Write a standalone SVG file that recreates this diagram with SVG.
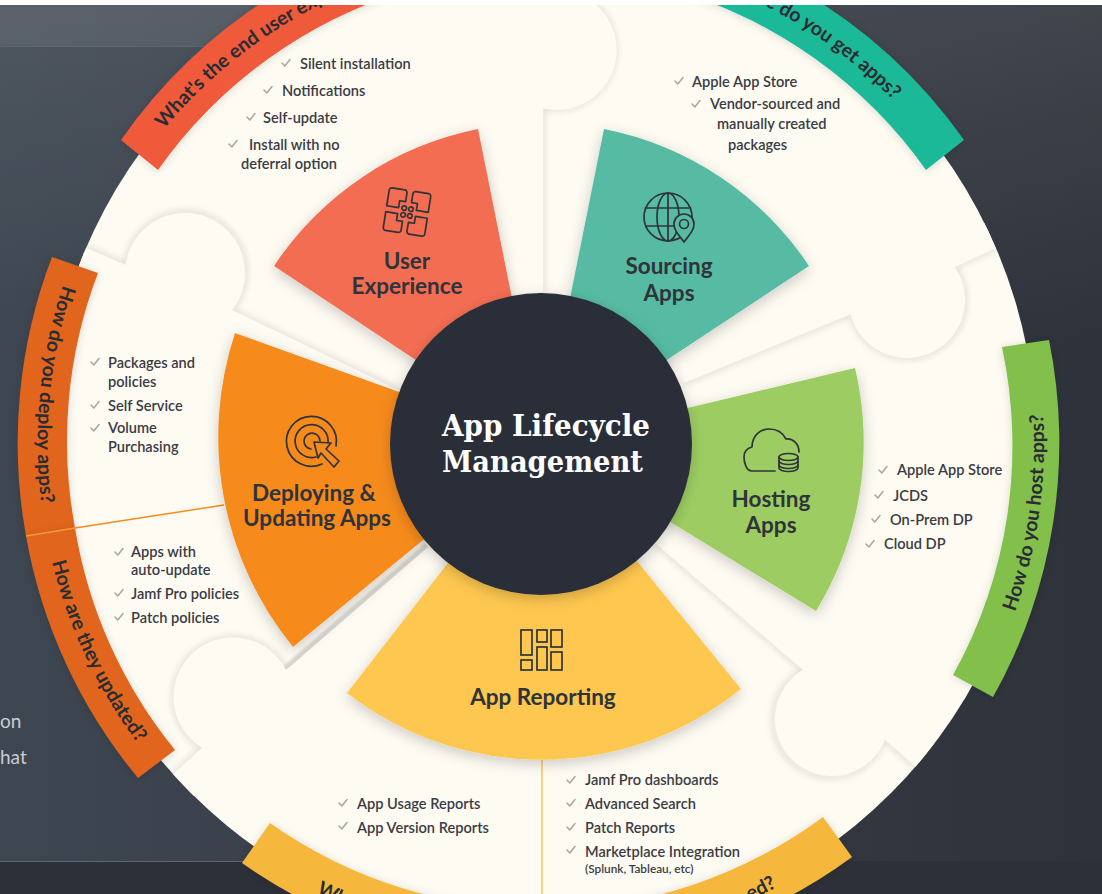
<svg xmlns="http://www.w3.org/2000/svg" xmlns:xlink="http://www.w3.org/1999/xlink" width="1102" height="894" viewBox="0 0 1102 894">
<style>
.item{font:600 14.6px "Lato","Open Sans",sans-serif;fill:#3a3c44;transform:translateY(.7px)}
.small{font:600 11.8px "Lato","Open Sans",sans-serif;fill:#3a3c44}
.title{font:700 22.5px "Lato","Open Sans",sans-serif;fill:#2f333a;text-anchor:middle;transform:translateY(.7px)}
.band{font:700 19.5px "Lato","Open Sans",sans-serif;fill:#2a2c33}
.center{font:700 30px "DejaVu Serif",serif;fill:#fff}
.side{font:400 19px "Lato",sans-serif;fill:#c9cdd2}
.icon{fill:none;stroke:#2f333a;stroke-width:1.7;stroke-linecap:round;stroke-linejoin:round}
.seam{fill:none;stroke:#cfcdc5;stroke-width:3;filter:url(#soft)}
.cover{fill:#fefbf3}
</style>
<defs>
<linearGradient id="bg" x1="0" x2="1" y1="0" y2="0"><stop offset="0" stop-color="#3e4651"/><stop offset=".5" stop-color="#363c46"/><stop offset="1" stop-color="#2e323a"/></linearGradient>
<linearGradient id="topglow" x1="0" x2="0" y1="0" y2="1"><stop offset="0" stop-color="#fff" stop-opacity=".09"/><stop offset="1" stop-color="#fff" stop-opacity="0"/></linearGradient>
<filter id="soft" x="-20%" y="-20%" width="140%" height="140%"><feGaussianBlur stdDeviation="3"/></filter>
<filter id="softer" x="-20%" y="-20%" width="140%" height="140%"><feGaussianBlur stdDeviation="1"/></filter>
<filter id="drop" x="-20%" y="-20%" width="140%" height="140%"><feDropShadow dx="0" dy="4" stdDeviation="7" flood-color="#000" flood-opacity=".2"/></filter>
<filter id="dropsm" x="-20%" y="-20%" width="140%" height="140%"><feDropShadow dx="0" dy="1" stdDeviation="4" flood-color="#000" flood-opacity=".14"/></filter>
<clipPath id="diskclip"><circle cx="541" cy="443" r="495"/></clipPath>
<path id="chk" d="M-4,0 L-1.2,3 L4,-3.5" fill="none" stroke="#a8a8a4" stroke-width="1.6" stroke-linecap="round" stroke-linejoin="round"/>
<path id="q" d="M-21,-3 V-19 a2.5,2.5 0 0 1 2.5,-2.5 H-5.5 a2.5,2.5 0 0 1 2.5,2.5 V-10 H-9 V-3 Z"/>
<path id="pRed" d="M164,129 A491,491 0 0 1 541,-48"/>
<path id="pTeal" d="M541,-48 A491,491 0 0 1 893,100"/>
<path id="pDeploy" d="M63,285 A503,503 0 0 0 47,540"/>
<path id="pUpdate" d="M52,562 A503,503 0 0 0 187,800"/>
<path id="pHost" d="M1015,612 A503,503 0 0 0 1040,380"/>
<path id="pW" d="M316,893 A503,503 0 0 0 541,946"/>
<path id="pEd" d="M541,946 A503,503 0 0 0 777,887"/>
</defs>

<g id="background">
<rect width="1102" height="894" fill="url(#bg)"/>
<rect width="1102" height="340" fill="url(#topglow)"/>
<rect y="5" width="300" height="41" fill="#fff" fill-opacity=".07"/>
<rect y="46" width="300" height="1" fill="#5c6570"/>
<rect x="0" y="861" width="1102" height="33" fill="#2d3038"/>
<rect x="0" y="861" width="300" height="1" fill="#5c6570"/>
<text class="side" x="0" y="728">on</text>
<text class="side" x="0" y="764">hat</text>
</g>

<circle id="disk" cx="541" cy="443" r="495" fill="#fefbf3"/>

<g id="connectors" clip-path="url(#diskclip)">
<path class="seam" d="M543,292 L543,108 A59.7,59.7 0 1 0 558,-10"/>
<path class="seam" d="M84,247 L126,265 A60,60 0 1 1 232,310 L398,390"/>
<path class="seam" d="M996,248 L955,267 A58,58 0 1 1 851,314 L684,383"/>
<path class="seam" d="M916,767 L884,739 A57,57 0 1 1 803,670 L655,543"/>
<path class="seam" d="M172,775 L202,748 A59.5,59.5 0 1 1 286,670"/>
<path class="seam" style="stroke:#d6d5cf;stroke-width:9;filter:url(#softer)" d="M286,670 L428,547"/>
<circle class="cover" cx="557" cy="50" r="59.7"/><rect class="cover" x="515" y="0" width="28" height="292"/>
<circle class="cover" cx="185" cy="273" r="60"/><polygon class="cover" points="84,247 126,265 232,310 398,390 388,420 220,338 70,275"/>
<circle class="cover" cx="907" cy="300" r="58"/><polygon class="cover" points="996,248 955,267 851,314 684,383 672,356 842,288 985,222"/>
<circle class="cover" cx="832" cy="719" r="57"/><polygon class="cover" points="916,767 884,739 803,670 655,543 675,520 822,648 938,745"/>
<circle class="cover" cx="233" cy="697" r="59.5"/><polygon class="cover" points="172,775 202,748 286,670 428,547 450,570 306,694 192,798"/>
<path d="M542,760 V894" fill="none" stroke="#f6c65e" stroke-width="1.5"/>
<path d="M75,528 L224,505" fill="none" stroke="#f68b1f" stroke-width="1.5"/>
</g>

<g id="node-user-experience">
<path d="M541,443 L478,129 A320,320 0 0 0 274,266 Z" fill="#f36d52" filter="url(#drop)"/>
<g class="icon" transform="translate(407,212) rotate(9)">
<use href="#q"/><use href="#q" transform="scale(-1,1)"/><use href="#q" transform="scale(1,-1)"/><use href="#q" transform="scale(-1,-1)"/>
<circle cx="-3.4" cy="-3.4" r="2.3"/><circle cx="3.4" cy="-3.4" r="2.3"/><circle cx="-3.4" cy="3.4" r="2.3"/><circle cx="3.4" cy="3.4" r="2.3"/>
</g>
<text class="title" x="407" y="268">User</text>
<text class="title" x="407" y="293">Experience</text>
</g>

<g id="node-sourcing-apps">
<path d="M541,443 L809,266 A320,320 0 0 0 604,129 Z" fill="#57bba2" filter="url(#drop)"/>
<g class="icon">
<circle cx="668" cy="217" r="24"/><ellipse cx="668" cy="217" rx="11" ry="24"/><path d="M668,193 V241 M646,208 H690 M646,226 H690"/>
<path d="M684,242 C678,234 674,230 674,224 a10,10 0 0 1 20,0 C694,230 690,234 684,242 Z" fill="#57bba2"/><circle cx="684" cy="224" r="4.5"/>
</g>
<text class="title" x="669" y="273">Sourcing</text>
<text class="title" x="669" y="300">Apps</text>
</g>

<g id="node-hosting-apps">
<path d="M541,443 L855,368 A322,322 0 0 1 816,611 Z" fill="#9dcd62" filter="url(#drop)"/>
<g class="icon">
<path d="M775,471 H752 C746,471 744,462 744,457 C744,451 748,448 752,447 C752,436 760,429 769,429 C777,429 783,433 786,439 C793,438 799,444 799,452"/>
<path d="M779,457 a9.5,3.5 0 0 1 19,0 V468 a9.5,3.5 0 0 1 -19,0 Z" fill="#9dcd62"/><path d="M779,457 a9.5,3.5 0 0 0 19,0 M779,461 a9.5,3.5 0 0 0 19,0 M779,465 a9.5,3.5 0 0 0 19,0"/>
</g>
<text class="title" x="771" y="506">Hosting</text>
<text class="title" x="771" y="532">Apps</text>
</g>

<g id="node-app-reporting">
<path d="M541,443 L741,689 A317,317 0 0 1 347,693 Z" fill="#fec74f" filter="url(#drop)"/>
<g class="icon" style="stroke-linejoin:miter">
<rect x="521" y="630" width="11" height="25"/><rect x="521" y="660" width="11" height="10"/>
<rect x="537" y="630" width="10" height="12"/><rect x="537" y="647" width="10" height="23"/>
<rect x="551" y="630" width="11" height="17"/><rect x="551" y="652" width="11" height="18"/>
</g>
<text class="title" x="543" y="704">App Reporting</text>
</g>

<g id="node-deploying-updating">
<path d="M541,443 L293,647 A332,332 0 0 1 235,333 Z" fill="#f68b1f" filter="url(#drop)"/>
<g class="icon">
<path d="M336,446 A25,25 0 1 0 322,464"/><path d="M328,443 A16.5,16.5 0 1 0 316,457"/><path d="M320,441 A8,8 0 1 0 311,449"/>
<path d="M314,442 L331,443 L326,449 L339,461 L334,467 L321,453 L318,458 Z" fill="#f68b1f"/>
</g>
<text class="title" x="314" y="500">Deploying &amp;</text>
<text class="title" x="317" y="525">Updating Apps</text>
</g>

<g id="node-center">
<circle cx="541" cy="444" r="151" fill="#2c2f38" filter="url(#drop)"/>
<text class="center" x="442" y="436" textLength="208" lengthAdjust="spacingAndGlyphs">App Lifecycle</text>
<text class="center" x="442" y="472" textLength="201" lengthAdjust="spacingAndGlyphs">Management</text>
</g>

<g id="node-band-experience">
<path d="M121,140 A522,522 0 0 1 282,-10 L408,-10 A472,472 0 0 0 158,170 Z" fill="#ef5a3b" filter="url(#dropsm)"/>
<text class="band"><textPath href="#pRed">What's the end user exp</textPath></text>
</g>
<g id="node-band-get">
<path d="M674,-10 A472,472 0 0 1 926,170 L964,140 A522,522 0 0 0 800,-10 Z" fill="#1eb998" filter="url(#dropsm)"/>
<text class="band" text-anchor="end"><textPath href="#pTeal" startOffset="100%">e do you get apps?</textPath></text>
</g>
<g id="node-band-host">
<path d="M1002,347 A472,472 0 0 1 953,675 L993,697 A520,520 0 0 0 1049,340 Z" fill="#82c04b" filter="url(#dropsm)"/>
<text class="band"><textPath href="#pHost">How do you host apps?</textPath></text>
</g>
<g id="node-band-report">
<path d="M823,817 A472,472 0 0 1 270,823 L242,863 A522,522 0 0 0 852,857 Z" fill="#f5b83d" filter="url(#dropsm)"/>
<text class="band"><textPath href="#pW">Wh</textPath></text>
<text class="band" text-anchor="end"><textPath href="#pEd" startOffset="100%">ed?</textPath></text>
</g>
<g id="node-band-deploy">
<path d="M75,528 A472,472 0 0 1 98,273 L52,257 A522,522 0 0 0 26,536 Z" fill="#e1651f" filter="url(#dropsm)"/>
<text class="band"><textPath href="#pDeploy">How do you deploy apps?</textPath></text>
</g>
<g id="node-band-update">
<path d="M175,750 A472,472 0 0 1 75,528 L26,536 A522,522 0 0 0 138,778 Z" fill="#e1651f" filter="url(#dropsm)"/>
<path d="M26,536 L75,528" stroke="#f39a3f" stroke-width="1.5" fill="none"/>
<text class="band"><textPath href="#pUpdate">How are they updated?</textPath></text>
</g>

<g id="list-experience">
<use href="#chk" x="286" y="63"/><text class="item" x="300" y="68">Silent installation</text>
<use href="#chk" x="268" y="90"/><text class="item" x="282" y="95">Notifications</text>
<use href="#chk" x="251" y="117"/><text class="item" x="263" y="122">Self-update</text>
<use href="#chk" x="233" y="144"/><text class="item" x="249" y="149">Install with no</text>
<text class="item" x="241" y="168">deferral option</text>
</g>
<g id="list-sourcing">
<use href="#chk" x="679" y="81"/><text class="item" x="692" y="86">Apple App Store</text>
<use href="#chk" x="696" y="104"/><text class="item" x="710" y="108">Vendor-sourced and</text>
<text class="item" x="717" y="128">manually created</text>
<text class="item" x="728" y="149">packages</text>
</g>
<g id="list-deploying">
<use href="#chk" x="95" y="362"/><text class="item" x="108" y="367">Packages and</text>
<text class="item" x="108" y="386">policies</text>
<use href="#chk" x="95" y="405"/><text class="item" x="108" y="410">Self Service</text>
<use href="#chk" x="95" y="428"/><text class="item" x="108" y="432">Volume</text>
<text class="item" x="108" y="451">Purchasing</text>
</g>
<g id="list-updating">
<use href="#chk" x="119" y="552"/><text class="item" x="131" y="556">Apps with</text>
<text class="item" x="131" y="574">auto-update</text>
<use href="#chk" x="119" y="593"/><text class="item" x="131" y="598">Jamf Pro policies</text>
<use href="#chk" x="119" y="617"/><text class="item" x="131" y="622">Patch policies</text>
</g>
<g id="list-reports-left">
<use href="#chk" x="343" y="803"/><text class="item" x="357" y="808">App Usage Reports</text>
<use href="#chk" x="343" y="826"/><text class="item" x="357" y="832">App Version Reports</text>
</g>
<g id="list-reports-right">
<use href="#chk" x="571" y="780"/><text class="item" x="585" y="784">Jamf Pro dashboards</text>
<use href="#chk" x="571" y="803"/><text class="item" x="585" y="808">Advanced Search</text>
<use href="#chk" x="571" y="827"/><text class="item" x="585" y="832">Patch Reports</text>
<use href="#chk" x="571" y="850"/><text class="item" x="585" y="856">Marketplace Integration</text>
<text class="small" x="585" y="873">(Splunk, Tableau, etc)</text>
</g>
<g id="list-hosting">
<use href="#chk" x="883" y="470"/><text class="item" x="897" y="474">Apple App Store</text>
<use href="#chk" x="879" y="495"/><text class="item" x="893" y="500">JCDS</text>
<use href="#chk" x="876" y="519"/><text class="item" x="890" y="524">On-Prem DP</text>
<use href="#chk" x="870" y="544"/><text class="item" x="884" y="548">Cloud DP</text>
</g>
<rect id="topstrip" width="1102" height="5" fill="#fff"/>
</svg>
